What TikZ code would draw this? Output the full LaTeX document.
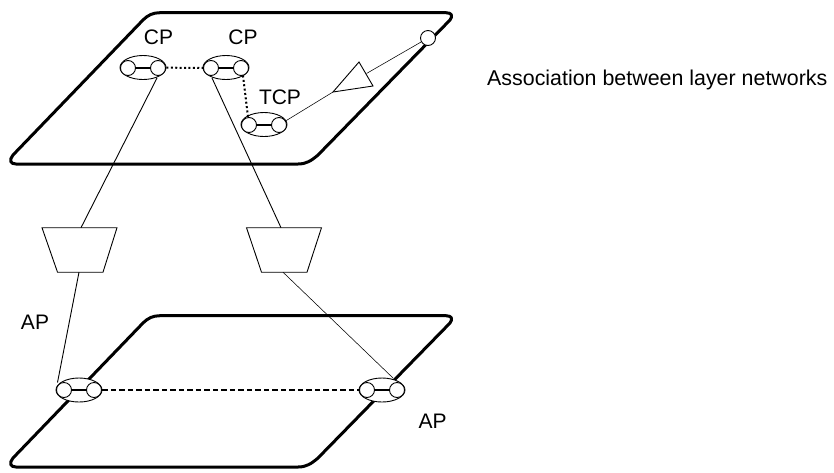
\documentclass[tikz,border=0pt]{standalone}
\usepackage{fontspec}
\setmainfont{Liberation Sans}
\usetikzlibrary{shapes.geometric}
\tikzset{
  plane/.style={line width=3pt,line join=round},
  port/.style={ellipse,draw,fill=white,line width=0.9pt,minimum width=46pt,minimum height=24pt,inner sep=0pt},
  hole/.style={circle,draw,fill=white,line width=0.9pt,minimum size=15pt,inner sep=0pt},
  bar/.style={line width=1.6pt},
  conn/.style={line width=0.9pt},
  fine/.style={line width=0.55pt},
  dots/.style={line width=2pt,dash pattern=on 2pt off 2.4pt},
  dash2/.style={line width=2pt,dash pattern=on 5.5pt off 3pt},
  adapt/.style={draw,line width=0.9pt,line join=miter,fill=white},
  lab/.style={font=\fontsize{21}{24}\selectfont,inner sep=0pt},
  longlab/.style={font=\fontsize{21.4}{24}\selectfont,inner sep=0pt}
}
\newcommand{\planeshape}[1]{%
  \draw[plane] (160,#1+12.7) -- (446,#1+12.7) .. controls (452,#1+12.7) and (453,#1+16) .. (450,#1+20)
   -- (318,#1+155) .. controls (311,#1+161) and (306,#1+164) .. (298,#1+164)
   -- (16,#1+164) .. controls (10,#1+164) and (9,#1+160) .. (13,#1+155)
   -- (143,#1+20) .. controls (148,#1+15) and (153,#1+12.7) .. (160,#1+12.7) -- cycle;}
\begin{document}
\begin{tikzpicture}[x=1pt,y=-1pt]
\useasboundingbox (0,0) rectangle (834,472);
\fill[white] (0,0) rectangle (834,472);
\planeshape{0}
\planeshape{303}
% ports
\node[port] (cp1) at (143,67.5) {};
\node[port] (cp2) at (226,67.5) {};
\node[port] (tcp) at (264,124.5) {};
\node[port] (ap1) at (79,390) {};
\node[port] (ap2) at (382,390) {};
\node[hole] (far) at (428,38) {};
% adaptation trapezoids
\draw[adapt] (42,227.7) coordinate (t1a) -- (117,227.7) -- (103,272.2) -- (57.5,272.2) -- cycle;
\draw[adapt] (246.5,227.7) coordinate (t2a) -- (321.5,227.7) -- (307,272.2) -- (261.5,272.2) -- cycle;
% triangle
\coordinate (tria) at (333,92);
\coordinate (trib) at (359,62);
\coordinate (tric) at (373,86);
\coordinate (trim) at (366.5,73.5);
\draw[conn,line join=miter] (tria) -- (trib) -- (tric) -- cycle;
\draw[fine] (far) -- (trim);
% holes
\foreach \n/\x/\y in {a/128/68,b/158/68,c/211/68,d/241/68,e/249/125,f/279/125,g/64/390,h/94/390,i/367/390,j/397/390}
  \node[hole] (\n) at (\x,\y) {};
\foreach \p/\q in {a/b,c/d,e/f,g/h,i/j}
  \draw[bar] (\p) -- (\q);
\draw[fine] (f) -- (tria);
% associations
\draw[dots] (cp1) -- (c);
\coordinate (dotA) at (243,75.5);
\coordinate (dotB) at (248,117);
\draw[dots] (dotA) -- (dotB);
\draw[dash2] (ap1) -- (i);
% connectors
\coordinate (c1) at (157,78);
\coordinate (c2) at (212,78);
\coordinate (t1top) at (81,227.7);
\coordinate (t2top) at (281,227.7);
\coordinate (t1bot) at (79,272.2);
\coordinate (t2bot) at (283,272.2);
\coordinate (g1) at (57.5,382.5);
\coordinate (j1) at (393,378);
\draw[conn] (c1) -- (t1top);
\draw[conn] (c2) -- (t2top);
\draw[conn] (t1bot) -- (g1);
\draw[fine] (t2bot) -- (j1);
% labels
\node[lab] (l1) at (158.5,37) {CP};
\node[lab] (l2) at (243,37) {CP};
\node[lab] (l3) at (280,97) {TCP};
\node[lab] (l4) at (35,322.5) {AP};
\node[lab] (l5) at (432.5,421) {AP};
\node[longlab,anchor=base west] (l6) at (487,85) {Association between layer networks};
\end{tikzpicture}
\end{document}
